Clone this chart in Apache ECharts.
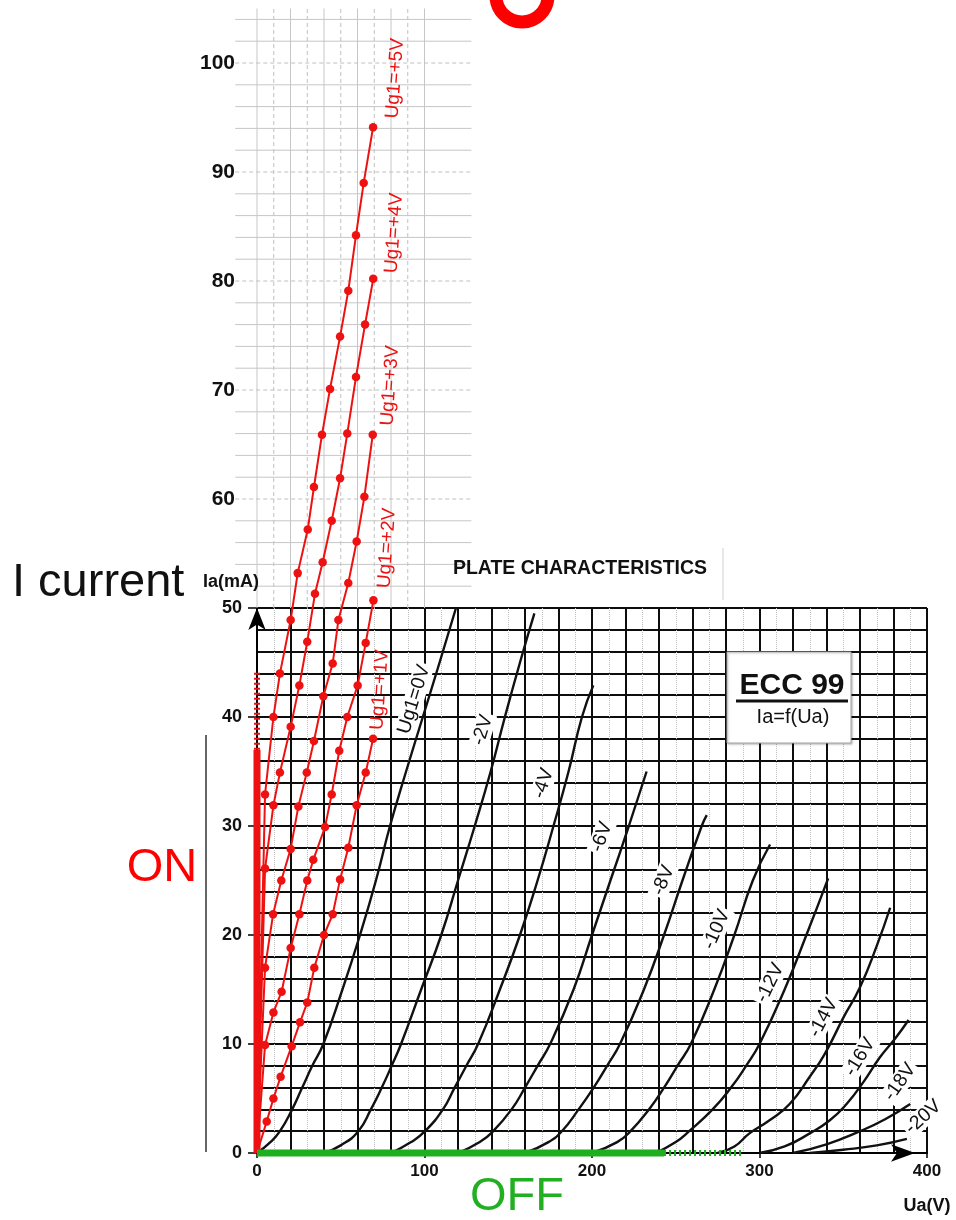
<!DOCTYPE html>
<html>
<head>
<meta charset="utf-8">
<script src="https://cdn.jsdelivr.net/npm/echarts@6/dist/echarts.min.js"></script>
<style>
  html, body { margin: 0; padding: 0; background: #fff; }
  #c { width: 956px; height: 1220px; }
</style>
</head>
<body>
<div id="c"></div>
<script>
// ECC99 plate characteristics: Ia (mA) against Ua (V), one curve per grid bias Ug1.
// Each point is [Ua, Ia].

// Negative / zero grid bias (black curves)
const ug0   = [[0,0],[8,1],[13.7,2],[21,4],[27,6],[33,8],[39.6,10],[51,15],[61.5,20],[71,25],[79.4,30],[89,35],[99,40],[109,45],[118.8,50]];
const ugN2  = [[40,0],[50,0.7],[60.5,2],[68,4],[74.5,6],[80.4,8],[86,10],[98,15],[110,20],[120,25],[130,30],[139.5,35],[148,40],[157,45],[165.6,49.5]];
const ugN4  = [[80,0],[92,1],[100.3,2],[111,4],[118,6],[125,8],[132,10],[145,15],[157,20],[167.5,25],[177,30],[186,35],[194,40],[200.8,42.9]];
const ugN6  = [[120,0],[133,1],[141,2],[152,4],[160,6],[167.5,8],[175,10],[189,15],[200,20],[211,25],[222,30],[232.6,35]];
const ugN8  = [[160,0],[174,1],[182,2],[192,4],[201,6],[209,8],[216.7,10],[231,15],[243,20],[254,25],[265.5,30],[268.5,31]];
const ugN10 = [[200,0],[215,1],[223,2],[234,4],[243,6],[251,8],[259,10],[273,15],[285,20],[296,25],[306.3,28.3]];
const ugN12 = [[238,0],[250,1],[258,2],[272,4],[283,6],[292,8],[300,10],[315,15],[328,20],[341,25.2]];
const ugN14 = [[275,0],[285,0.6],[294,1.8],[306,3],[318,4.5],[330,7],[339,9.1],[350,12.4],[360,15.2],[370,19],[378,22.5]];
const ugN16 = [[300,0],[315,0.6],[330,1.8],[342,3],[352,4.5],[362,6.5],[372,8.8],[381,10.5],[389,12.2]];
const ugN18 = [[320,0],[340,0.8],[360,2.0],[375,3.1],[390,4.5]];
const ugN20 = [[330,0],[350,0.3],[370,0.7],[388,1.3]];

// Positive grid bias (red, measured points)
const ugP1 = [[0,0],[5.8,2.9],[9.8,5.0],[14.1,7.0],[20.7,9.8],[25.7,12.0],[30.0,13.8],[34.2,17.0],[40.0,20.0],[45.2,21.9],[49.6,25.1],[54.5,28.0],[59.5,31.9],[64.9,34.9],[69.3,38.0]];
const ugP2 = [[0,0],[4.8,9.9],[9.8,12.9],[14.7,14.8],[20.1,18.8],[25.3,21.9],[30.0,25.0],[33.6,26.9],[40.6,29.9],[44.6,32.9],[49.1,36.9],[53.9,40.0],[60.1,42.9],[64.9,46.8],[69.5,50.7]];
const ugP3 = [[0,0],[4.8,17.0],[9.6,21.9],[14.5,25.0],[20.1,27.9],[24.7,31.8],[29.7,34.9],[34.0,37.8],[39.6,41.9],[45.2,44.9],[48.6,48.9],[54.5,52.3],[59.5,56.1],[64.1,60.2],[69.1,65.9]];
const ugP4 = [[0,0],[4.8,26.1],[9.8,31.9],[13.7,34.9],[20.1,39.1],[25.3,42.9],[30.0,46.9],[34.6,51.3],[39.2,54.2],[44.6,58.0],[49.6,61.9],[53.9,66.0],[59.1,71.2],[64.5,76.0],[69.4,80.2]];
const ugP5 = [[0,0],[4.8,32.9],[9.8,40.0],[13.7,44.0],[20.1,48.9],[24.3,53.2],[30.3,57.2],[34.0,61.1],[38.8,65.9],[43.6,70.1],[49.6,74.9],[54.5,79.1],[59.1,84.2],[63.7,89.0],[69.3,94.1]];

// ON / OFF operating ranges (solid part, then dotted continuation)
const onSolid   = [[0,0],[0,37.0]];
const onDotted  = [[0,37.0],[0,44.2]];
const offSolid  = [[0,0],[243,0]];
const offDotted = [[243,0],[290,0]];

// Curve names and label placement [Ua, Ia] with text angle
const negCurves = [
  { name: 'Ug1=0V', data: ug0,   label: 'Ug1=0V', at: [93.7, 41.6], rot: 73 },
  { name: '-2V',    data: ugN2,  label: '-2V',    at: [134.7, 38.8], rot: 73 },
  { name: '-4V',    data: ugN4,  label: '-4V',    at: [171, 33.9], rot: 72 },
  { name: '-6V',    data: ugN6,  label: '-6V',    at: [205.8, 29.0], rot: 70 },
  { name: '-8V',    data: ugN8,  label: '-8V',    at: [242.6, 25.0], rot: 68 },
  { name: '-10V',   data: ugN10, label: '-10V',   at: [274.4, 20.5], rot: 66 },
  { name: '-12V',   data: ugN12, label: '-12V',   at: [306.3, 15.6], rot: 64 },
  { name: '-14V',   data: ugN14, label: '-14V',   at: [338.1, 12.4], rot: 62 },
  { name: '-16V',   data: ugN16, label: '-16V',   at: [360, 8.8], rot: 58 },
  { name: '-18V',   data: ugN18, label: '-18V',   at: [383.9, 6.5], rot: 55 },
  { name: '-20V',   data: ugN20, label: '-20V',   at: [397.8, 3.3], rot: 42 }
];
const posCurves = [
  { name: 'Ug1=+1V', data: ugP1, at: [73.4, 42.5] },
  { name: 'Ug1=+2V', data: ugP2, at: [77.6, 55.5] },
  { name: 'Ug1=+3V', data: ugP3, at: [79.4, 70.4] },
  { name: 'Ug1=+4V', data: ugP4, at: [81.8, 84.4] },
  { name: 'Ug1=+5V', data: ugP5, at: [82.4, 98.6] }
];

// Axis ticks
const uaTicks = [0, 100, 200, 300, 400];
const iaTicks = [0, 10, 20, 30, 40, 50, 60, 70, 80, 90, 100];

// Light extension grid above 50 mA
const extVolts = [0, 10, 20, 30, 40, 50, 60, 70, 80, 90, 100];
const extCurrents = [52,54,56,58,60,62,64,66,68,70,72,74,76,78,80,82,84,86,88,90,92,94,96,98,100,102,104];

const FONT = '"Liberation Sans", Arial, Helvetica, sans-serif';
const RED = '#ee1111';
const GREEN = '#1fae1f';

const extGrid = [];
extVolts.forEach(v => extGrid.push([v, 50, v, 105, v % 20 === 0 ? 1 : 0]));
extCurrents.forEach(i => extGrid.push([-13, i, 128, i, i % 10 === 0 ? 0 : 1]));

const chart = echarts.init(document.getElementById('c'));

const series = [];
series.push({
  type: 'custom', xAxisIndex: 1, yAxisIndex: 1, z: 1, silent: true, clip: false,
  data: extGrid,
  renderItem: function (params, api) {
    const p1 = api.coord([api.value(0), api.value(1)]);
    const p2 = api.coord([api.value(2), api.value(3)]);
    const solid = api.value(4) === 1;
    return {
      type: 'line',
      shape: { x1: p1[0], y1: p1[1], x2: p2[0], y2: p2[1] },
      style: { stroke: solid ? '#c6c6c6' : '#c0c0c0', lineWidth: 1, lineDash: solid ? null : [4, 3] }
    };
  }
});
negCurves.forEach(c => series.push({
  name: c.name, type: 'line', xAxisIndex: 1, yAxisIndex: 1, z: 3,
  data: c.data, smooth: 0.5, showSymbol: false, symbol: 'none',
  lineStyle: { color: '#111', width: 2.4 }
}));
posCurves.forEach(c => series.push({
  name: c.name, type: 'line', xAxisIndex: 1, yAxisIndex: 1, z: 5,
  data: c.data.map((p, i) => i === 0 ? { value: p, symbol: 'none' } : p),
  symbol: 'circle', symbolSize: 8.5, showAllSymbol: true,
  lineStyle: { color: RED, width: 2 }, itemStyle: { color: RED }
}));
function bar(data, color, dashed) {
  return {
    type: 'line', xAxisIndex: 1, yAxisIndex: 1, z: 6, data: data, symbol: 'none', clip: false,
    lineStyle: { color: color, width: dashed ? 6 : 7, type: dashed ? [2, 3] : 'solid' }
  };
}
series.push(bar(onSolid, RED, false), bar(onDotted, RED, true), bar(offSolid, GREEN, false), bar(offDotted, GREEN, true));

chart.setOption({
  animation: false,
  backgroundColor: '#fff',
  textStyle: { fontFamily: FONT },
  grid: [
    { left: 257, right: 29, top: 608, bottom: 67 },
    { left: 257, right: 29, top: 8.5, bottom: 67 }
  ],
  xAxis: [
    {
      gridIndex: 0, type: 'value', min: 0, max: 400, interval: 20,
      axisLine: { show: true, onZero: false, lineStyle: { color: '#000', width: 2 },
                  symbol: ['none', 'arrow'], symbolSize: [13, 24], symbolOffset: [0, -12] },
      axisTick: { show: false }, axisLabel: { show: false },
      splitLine: { show: true, lineStyle: { color: '#0d0d0d', width: 2 } },
      minorTick: { show: false, splitNumber: 2 },
      minorSplitLine: { show: true, lineStyle: { color: '#bdbdbd', type: 'dotted', width: 1 } }
    },
    {
      gridIndex: 1, type: 'value', min: 0, max: 400, interval: 100,
      axisLine: { show: false },
      axisTick: { show: true, length: 5, lineStyle: { color: '#000', width: 1.5 } },
      axisLabel: { show: true, margin: 10, color: '#111', fontWeight: 'bold', fontSize: 17, fontFamily: FONT,
                   formatter: v => uaTicks.includes(v) ? String(v) : '' },
      splitLine: { show: false }
    }
  ],
  yAxis: [
    {
      gridIndex: 0, type: 'value', min: 0, max: 50, interval: 2, position: 'left',
      axisLine: { show: true, onZero: false, lineStyle: { color: '#000', width: 2 },
                  symbol: ['none', 'arrow'], symbolSize: [13, 22] },
      axisTick: { show: false }, axisLabel: { show: false },
      splitLine: { show: true, lineStyle: { color: '#0d0d0d', width: 2 } }
    },
    {
      gridIndex: 1, type: 'value', min: 0, max: 105, interval: 10, position: 'left',
      axisLine: { show: false }, axisTick: { show: false }, splitLine: { show: false },
      axisLabel: {
        show: true, margin: 15, color: '#111', fontFamily: FONT,
        formatter: v => !iaTicks.includes(v) ? '' : (v >= 60 ? '{u|' + v + '}' : '{l|' + v + '}'),
        rich: {
          u: { fontSize: 21, fontWeight: 'bold', fontFamily: FONT, color: '#111', padding: [0, 7, 0, 0] },
          l: { fontSize: 18, fontWeight: 'bold', fontFamily: FONT, color: '#111' }
        }
      }
    },
    {
      gridIndex: 0, type: 'value', min: 0, max: 50, interval: 10, position: 'left', offset: 0,
      axisLine: { show: false }, axisLabel: { show: false }, splitLine: { show: false },
      axisTick: { show: true, length: 9, lineStyle: { color: '#000', width: 1.5 } }
    }
  ],
  series: series
});

// Annotations
const toPx = p => chart.convertToPixel({ gridIndex: 1 }, p);
const graphics = [];

negCurves.forEach(c => {
  const p = toPx(c.at);
  graphics.push({
    type: 'text', x: p[0], y: p[1], rotation: c.rot * Math.PI / 180, z: 20,
    style: { text: c.label, fontSize: 19.5, fontFamily: FONT, fill: '#111', align: 'center', verticalAlign: 'middle',
             backgroundColor: '#fff', padding: [0, 2] }
  });
});
posCurves.forEach(c => {
  const p = toPx(c.at);
  graphics.push({
    type: 'text', x: p[0], y: p[1], rotation: 86 * Math.PI / 180, z: 20,
    style: { text: c.name, fontSize: 19, fontFamily: FONT, fill: RED, align: 'center', verticalAlign: 'middle' }
  });
});

graphics.push(
  { type: 'arc', z: 20, shape: { cx: 522, cy: -4, r: 26, startAngle: 0, endAngle: Math.PI },
    style: { stroke: '#ff0000', lineWidth: 13, fill: null } },
  { type: 'text', x: 12, y: 583, z: 20, style: { text: 'I current', fontSize: 47, fontFamily: FONT, fill: '#111', align: 'left', verticalAlign: 'middle' } },
  { type: 'text', x: 162, y: 868, z: 20, style: { text: 'ON', fontSize: 47, fontFamily: FONT, fill: '#ff0000', align: 'center', verticalAlign: 'middle' } },
  { type: 'text', x: 517, y: 1197, z: 20, style: { text: 'OFF', fontSize: 47, fontFamily: FONT, fill: '#22b022', align: 'center', verticalAlign: 'middle' } },
  { type: 'text', x: 231, y: 582, z: 20, style: { text: 'Ia(mA)', fontSize: 18, fontWeight: 'bold', fontFamily: FONT, fill: '#111', align: 'center', verticalAlign: 'middle' } },
  { type: 'text', x: 927, y: 1206, z: 20, style: { text: 'Ua(V)', fontSize: 18, fontWeight: 'bold', fontFamily: FONT, fill: '#111', align: 'center', verticalAlign: 'middle' } },
  { type: 'text', x: 580, y: 569, z: 20, style: { text: 'PLATE CHARACTERISTICS', fontSize: 19.5, fontWeight: 'bold', fontFamily: FONT, fill: '#111', align: 'center', verticalAlign: 'middle' } },
  { type: 'rect', z: 20, shape: { x: 727, y: 652, width: 124, height: 91 },
    style: { fill: '#fff', stroke: '#a8a8a8', lineWidth: 1, shadowColor: 'rgba(0,0,0,0.25)', shadowBlur: 2, shadowOffsetX: 1, shadowOffsetY: 1 } },
  { type: 'text', x: 792, y: 686, z: 21, style: { text: 'ECC 99', fontSize: 30, fontWeight: 'bold', fontFamily: FONT, fill: '#111', align: 'center', verticalAlign: 'middle' } },
  { type: 'line', z: 21, shape: { x1: 736, y1: 701, x2: 848, y2: 701 }, style: { stroke: '#111', lineWidth: 3 } },
  { type: 'text', x: 793, y: 717, z: 21, style: { text: 'Ia=f(Ua)', fontSize: 20, fontFamily: FONT, fill: '#111', align: 'center', verticalAlign: 'middle' } },
  { type: 'line', z: 2, shape: { x1: 206, y1: 735, x2: 206, y2: 1152 }, style: { stroke: '#333', lineWidth: 1.5 } },
  { type: 'line', z: 2, shape: { x1: 723, y1: 548, x2: 723, y2: 600 }, style: { stroke: '#cfcfcf', lineWidth: 1 } }
);

chart.setOption({ graphic: graphics });
</script>
</body>
</html>
